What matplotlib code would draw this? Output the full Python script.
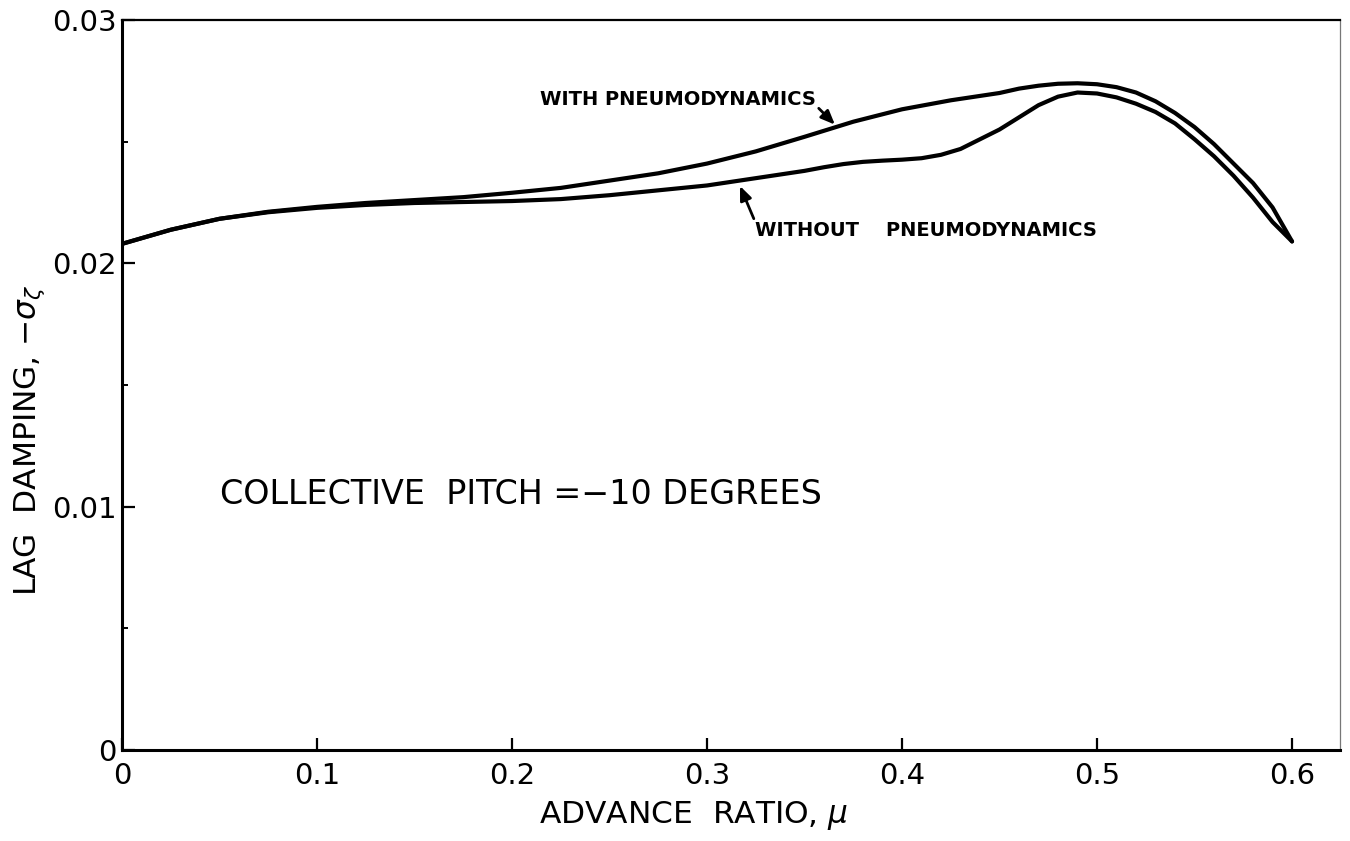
import matplotlib
matplotlib.use("Agg")
import matplotlib.pyplot as plt
from matplotlib.ticker import MultipleLocator, FixedLocator

# Lag damping vs advance ratio, collective pitch -10 deg
mu_with = [0.0, 0.025, 0.05, 0.075, 0.1, 0.125, 0.15, 0.175, 0.2, 0.225,
           0.25, 0.275, 0.3, 0.325, 0.35, 0.375, 0.4, 0.425, 0.45, 0.46,
           0.47, 0.48, 0.49, 0.5, 0.51, 0.52, 0.53, 0.54, 0.55, 0.56, 0.57,
           0.58, 0.59, 0.6]
damp_with = [0.0208, 0.02138, 0.02183, 0.02212, 0.02232, 0.02248, 0.0226,
             0.02272, 0.0229, 0.0231, 0.0234, 0.0237, 0.0241, 0.0246, 0.0252,
             0.02582, 0.02633, 0.0267, 0.0270, 0.02718, 0.0273, 0.02738,
             0.0274, 0.02736, 0.02724, 0.02702, 0.02666, 0.02618, 0.0256,
             0.0249, 0.0241, 0.0233, 0.0223, 0.0209]

mu_without = [0.0, 0.025, 0.05, 0.075, 0.1, 0.125, 0.15, 0.175, 0.2, 0.225,
              0.25, 0.275, 0.3, 0.325, 0.35, 0.36, 0.37, 0.38, 0.39, 0.4,
              0.41, 0.42, 0.43, 0.44, 0.45, 0.46, 0.47, 0.48, 0.49, 0.5,
              0.51, 0.52, 0.53, 0.54, 0.55, 0.56, 0.57, 0.58, 0.59, 0.6]
damp_without = [0.0208, 0.02138, 0.02183, 0.0221, 0.02228, 0.0224, 0.02248,
                0.02252, 0.02256, 0.02264, 0.0228, 0.0230, 0.0232, 0.0235,
                0.0238, 0.02395, 0.02408, 0.02417, 0.02422, 0.02426, 0.02432,
                0.02446, 0.0247, 0.0251, 0.0255, 0.0260, 0.0265, 0.02685,
                0.02702, 0.02698, 0.02682, 0.02656, 0.02622, 0.02575, 0.0251,
                0.0244, 0.0236, 0.0227, 0.0217, 0.0209]

x_ticks = [0.0, 0.1, 0.2, 0.3, 0.4, 0.5, 0.6]
x_labels = ["0", "0.1", "0.2", "0.3", "0.4", "0.5", "0.6"]
y_ticks = [0.0, 0.01, 0.02, 0.03]
y_labels = ["0", "0.01", "0.02", "0.03"]

plt.rcParams["font.family"] = ["DejaVu Sans"]

fig = plt.figure(figsize=(13.5, 8.41), dpi=100)
ax = fig.add_axes([122 / 1350, 91 / 841, 1218 / 1350, 730 / 841])

ax.plot(mu_with, damp_with, color="black", lw=3.0, solid_capstyle="round",
        solid_joinstyle="round")
ax.plot(mu_without, damp_without, color="black", lw=3.0,
        solid_capstyle="round", solid_joinstyle="round")

ax.set_xlim(0, 0.6246)
ax.set_ylim(0, 0.03)

ax.xaxis.set_major_locator(FixedLocator(x_ticks))
ax.set_xticklabels(x_labels)
ax.yaxis.set_major_locator(FixedLocator(y_ticks))
ax.set_yticklabels(y_labels)
ax.yaxis.set_minor_locator(MultipleLocator(0.005))

ax.tick_params(axis="both", which="major", direction="in", length=9,
               width=1.6, labelsize=21)
ax.tick_params(axis="x", which="major", pad=9)
ax.tick_params(axis="y", which="major", pad=4)
ax.tick_params(axis="y", which="minor", direction="in", length=4, width=1.4)
ax.tick_params(axis="x", which="minor", length=0)

for side in ("left", "bottom"):
    ax.spines[side].set_linewidth(2.2)
ax.spines["top"].set_linewidth(1.6)
ax.spines["right"].set_linewidth(0.9)
ax.spines["right"].set_color("#777777")

ax.set_xlabel(r"ADVANCE  RATIO, $\mu$", fontsize=22.5, va="center")
ax.xaxis.set_label_coords((694 - 122) / 1218, -(815 - 750) / 730)
ax.set_ylabel(r"LAG  DAMPING, $-\sigma_\zeta$", fontsize=22.5, va="center")
ax.yaxis.set_label_coords(-(122 - 30) / 1218, (750 - 440) / 730)

ax.text(0.050, 0.01048, "COLLECTIVE  PITCH =\u221210 DEGREES", fontsize=24,
        va="center", ha="left")

# curve callouts
ax.annotate("WITH PNEUMODYNAMICS", xy=(0.3656, 0.0257),
            xytext=(0.2144, 0.02672), fontsize=14, fontweight="bold",
            va="center", ha="left",
            arrowprops=dict(arrowstyle="-|>,head_length=0.6,head_width=0.25",
                            color="black", lw=2.0, shrinkA=0, shrinkB=0,
                            relpos=(1.0, 0.2)))
ax.annotate("WITHOUT    PNEUMODYNAMICS", xy=(0.3169, 0.02318),
            xytext=(0.3246, 0.02133), fontsize=14, fontweight="bold",
            va="center", ha="left",
            arrowprops=dict(arrowstyle="-|>,head_length=0.6,head_width=0.25",
                            color="black", lw=2.0, shrinkA=0, shrinkB=0,
                            relpos=(0.0, 1.0)))

fig.savefig("out.png", dpi=100)
